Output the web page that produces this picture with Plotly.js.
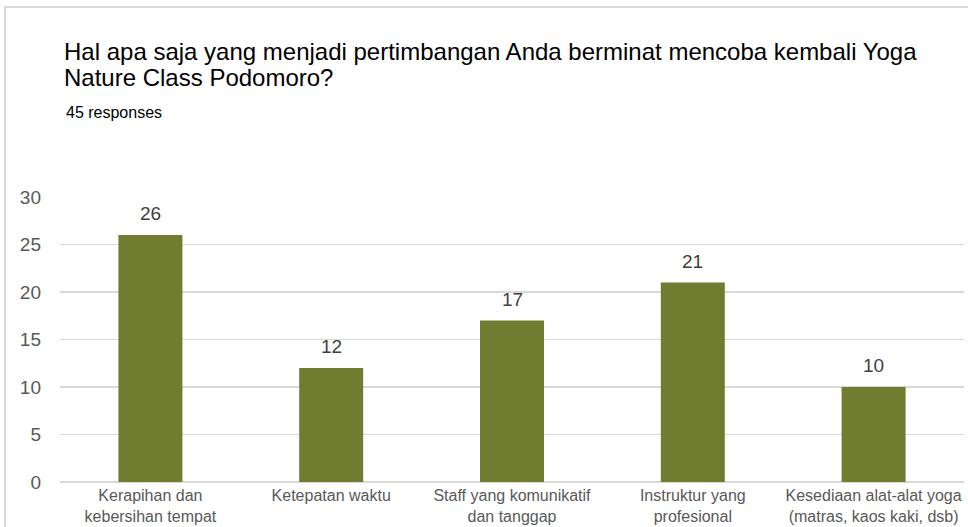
<!DOCTYPE html>
<html>
<head>
<meta charset="utf-8">
<script src="https://cdn.plot.ly/plotly-3.0.1.min.js"></script>
<style>
html,body{margin:0;padding:0;background:#fff;}
#wrap{position:relative;width:968px;height:527px;overflow:hidden;}
#frame{position:absolute;left:4px;top:6px;width:2000px;height:2000px;border-left:2px solid #dadada;border-top:2px solid #dadada;pointer-events:none;z-index:5;}
#chart{position:absolute;left:0;top:0;width:968px;height:527px;}
</style>
</head>
<body>
<div id="wrap"><div id="chart"></div><div id="frame"></div></div>
<script>
var categories = [
  "Kerapihan dan<br>kebersihan tempat",
  "Ketepatan waktu",
  "Staff yang komunikatif<br>dan tanggap",
  "Instruktur yang<br>profesional",
  "Kesediaan alat-alat yoga<br>(matras, kaos kaki, dsb)"
];
var counts = [26, 12, 17, 21, 10];
var yTicks = [0, 5, 10, 15, 20, 25, 30];
var titleLine1 = "Hal apa saja yang menjadi pertimbangan Anda berminat mencoba kembali Yoga";
var titleLine2 = "Nature Class Podomoro?";
var subtitle = "45 responses";

var W = 968, H = 527;
var mL = 59.5, mR = 3.5, mT = 197, mB = 45;
var pw = W - mL - mR, ph = H - mT - mB;
function px(x){ return (x - mL) / pw; }
function py(y){ return 1 - (y - mT) / ph; }

var font = "Liberation Sans, Arial, sans-serif";

var trace = {
  type: "bar",
  x: categories,
  y: counts,
  marker: {color: "#707c2f"},
  cliponaxis: false,
  hoverinfo: "none"
};

var valueLabels = categories.map(function(c, i){
  return {
    text: String(counts[i]), x: c, y: counts[i], xref: "x", yref: "y",
    xanchor: "center", yanchor: "bottom", yshift: 9, showarrow: false,
    font: {family: font, size: 19, color: "#404040"}
  };
});

var layout = {
  width: W, height: H,
  margin: {l: mL, r: mR, t: mT, b: mB, pad: 0},
  paper_bgcolor: "#fff",
  plot_bgcolor: "#fff",
  showlegend: false,
  bargap: 0.646,
  font: {family: font},
  xaxis: {
    type: "category",
    showgrid: false,
    showline: false,
    zeroline: false,
    ticks: "",
    tickfont: {family: font, size: 16, color: "#595959"},
    ticklabelstandoff: 2
  },
  yaxis: {
    range: [0, 30],
    tickvals: yTicks,
    ticktext: yTicks.map(String),
    showgrid: true,
    gridcolor: "#d9d9d9",
    gridwidth: 1.5,
    zeroline: true,
    zerolinecolor: "#d9d9d9",
    zerolinewidth: 1.5,
    showline: false,
    ticks: "",
    tickfont: {family: font, size: 19, color: "#595959"},
    ticklabelstandoff: 18
  },
  annotations: [
    {text: titleLine1, xref: "paper", yref: "paper", x: px(62), y: py(51), xanchor: "left", yanchor: "middle", showarrow: false, font: {family: font, size: 24, color: "#000"}},
    {text: titleLine2, xref: "paper", yref: "paper", x: px(62), y: py(77), xanchor: "left", yanchor: "middle", showarrow: false, font: {family: font, size: 24, color: "#000"}},
    {text: subtitle, xref: "paper", yref: "paper", x: px(64), y: py(113), xanchor: "left", yanchor: "middle", showarrow: false, font: {family: font, size: 16, color: "#000"}}
  ].concat(valueLabels)
};

Plotly.newPlot("chart", [trace], layout, {displayModeBar: false, staticPlot: true});
</script>
</body>
</html>
